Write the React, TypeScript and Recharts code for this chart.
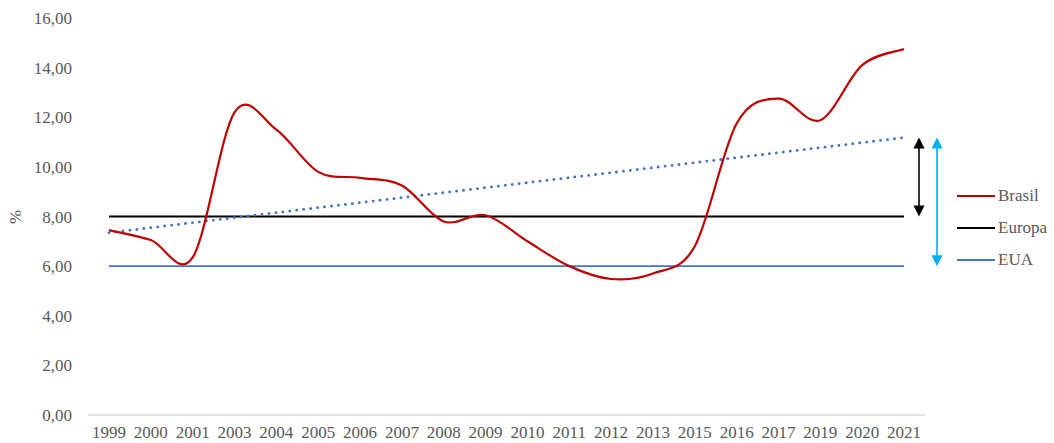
import React from 'react';
import { Legend, Line, LineChart, ReferenceLine, XAxis, YAxis } from 'recharts';

const years = [
  '1999', '2000', '2001', '2003', '2004', '2005', '2006', '2007', '2008', '2009',
  '2010', '2011', '2012', '2013', '2015', '2016', '2017', '2019', '2020', '2021',
];
const brasil = [
  7.45, 7.05, 6.35, 12.2, 11.5, 9.8, 9.56, 9.25, 7.8, 8.05,
  7.0, 6.0, 5.48, 5.7, 6.8, 11.75, 12.75, 11.88, 14.1, 14.75,
];
const europa = [8, 8, 8, 8, 8, 8, 8, 8, 8, 8, 8, 8, 8, 8, 8, 8, 8, 8, 8, 8];
const eua = [6, 6, 6, 6, 6, 6, 6, 6, 6, 6, 6, 6, 6, 6, 6, 6, 6, 6, 6, 6];
// trend line of Brasil, read at both ends
const trendStart = 7.35;
const trendEnd = 11.18;
const yTicks = [0, 2, 4, 6, 8, 10, 12, 14, 16];

const FONT = 'Liberation Serif, serif';
const TEXT = '#595959';
const RED = '#C00000';
const BLUE = '#4472C4';
const CYAN = '#00B0F0';

const data = years.map((year, i) => ({
  year,
  brasil: brasil[i],
  europa: europa[i],
  eua: eua[i],
}));

// Excel style smoothing (Catmull-Rom through every point)
function excelSmooth(context: any) {
  let pts: number[][] = [];
  return {
    areaStart() {},
    areaEnd() {},
    lineStart() {
      pts = [];
    },
    point(x: number, y: number) {
      pts.push([+x, +y]);
    },
    lineEnd() {
      const n = pts.length;
      if (!n) return;
      context.moveTo(pts[0][0], pts[0][1]);
      for (let i = 0; i < n - 1; i++) {
        const p0 = pts[Math.max(i - 1, 0)];
        const p1 = pts[i];
        const p2 = pts[i + 1];
        const p3 = pts[Math.min(i + 2, n - 1)];
        context.bezierCurveTo(
          p1[0] + (p2[0] - p0[0]) / 6,
          p1[1] + (p2[1] - p0[1]) / 6,
          p2[0] - (p3[0] - p1[0]) / 6,
          p2[1] - (p3[1] - p1[1]) / 6,
          p2[0],
          p2[1],
        );
      }
    },
  };
}

function arrowShape(offset: number, color: string) {
  return (props: any) => {
    const { x1, y1, y2 } = props;
    const x = x1 + offset;
    const top = Math.min(y1, y2);
    const bottom = Math.max(y1, y2);
    const h = 11;
    const w = 5.5;
    return (
      <g>
        <line x1={x} y1={top + h - 1} x2={x} y2={bottom - h + 1} stroke={color} strokeWidth={1.6} />
        <polygon points={`${x},${top} ${x - w},${top + h} ${x + w},${top + h}`} fill={color} />
        <polygon points={`${x},${bottom} ${x - w},${bottom - h} ${x + w},${bottom - h}`} fill={color} />
      </g>
    );
  };
}

const legendItems = [
  { name: 'Brasil', color: RED },
  { name: 'Europa', color: '#000000' },
  { name: 'EUA', color: BLUE },
];

function LegendBox() {
  return (
    <div style={{ fontFamily: FONT, fontSize: 17, color: TEXT }}>
      {legendItems.map((item) => (
        <div key={item.name} style={{ display: 'flex', alignItems: 'center', height: 32 }}>
          <span style={{ display: 'inline-block', width: 38, height: 2, background: item.color, marginRight: 3 }} />
          <span>{item.name}</span>
        </div>
      ))}
    </div>
  );
}

const tickStyle = { fontSize: 17, fill: TEXT, fontFamily: FONT, style: { fontFamily: FONT } };

export default function App() {
  return (
    <div style={{ position: 'absolute', left: 0, top: 0, background: '#fff', fontFamily: FONT }}>
      <LineChart
        width={1054}
        height={443}
        data={data}
        margin={{ top: 18, right: 29, bottom: 0, left: 0 }}
        style={{ fontFamily: FONT }}
      >
        <XAxis
          dataKey="year"
          padding={{ left: 21, right: 21 }}
          interval={0}
          height={28}
          tickLine={false}
          tickMargin={5}
          axisLine={{ stroke: '#d9d9d9', strokeWidth: 1.5 }}
          tick={tickStyle}
        />
        <YAxis
          domain={[0, 16]}
          ticks={yTicks}
          width={88}
          axisLine={false}
          tickLine={false}
          tickMargin={10}
          tickFormatter={(v: number) => v.toFixed(2).replace('.', ',')}
          tick={tickStyle}
          label={{
            content: () => (
              <text
                x={15}
                y={217}
                transform="rotate(-90 15 217)"
                textAnchor="middle"
                dominantBaseline="central"
                fontSize={17}
                fill={TEXT}
                style={{ fontFamily: FONT }}
              >
                %
              </text>
            ),
          }}
        />
        <Legend
          layout="vertical"
          align="right"
          verticalAlign="middle"
          content={() => <LegendBox />}
          wrapperStyle={{ left: 957, top: 180, width: 100 }}
        />
        <Line
          dataKey="europa"
          name="Europa"
          type="linear"
          stroke="#000000"
          strokeWidth={2}
          dot={false}
          activeDot={false}
          isAnimationActive={false}
        />
        <Line
          dataKey="eua"
          name="EUA"
          type="linear"
          stroke={BLUE}
          strokeWidth={1.6}
          dot={false}
          activeDot={false}
          isAnimationActive={false}
        />
        <ReferenceLine
          segment={[
            { x: years[0], y: trendStart },
            { x: years[years.length - 1], y: trendEnd },
          ]}
          stroke={BLUE}
          strokeWidth={2.8}
          strokeDasharray="0.1 6.9"
          strokeLinecap="round"
        />
        <Line
          dataKey="brasil"
          name="Brasil"
          type={excelSmooth as any}
          stroke={RED}
          strokeWidth={2.2}
          dot={false}
          activeDot={false}
          isAnimationActive={false}
        />
        <ReferenceLine
          segment={[
            { x: years[years.length - 1], y: trendEnd },
            { x: years[years.length - 1], y: europa[europa.length - 1] },
          ]}
          shape={arrowShape(15, '#000000')}
        />
        <ReferenceLine
          segment={[
            { x: years[years.length - 1], y: trendEnd },
            { x: years[years.length - 1], y: eua[eua.length - 1] },
          ]}
          shape={arrowShape(33, CYAN)}
        />
      </LineChart>
    </div>
  );
}
